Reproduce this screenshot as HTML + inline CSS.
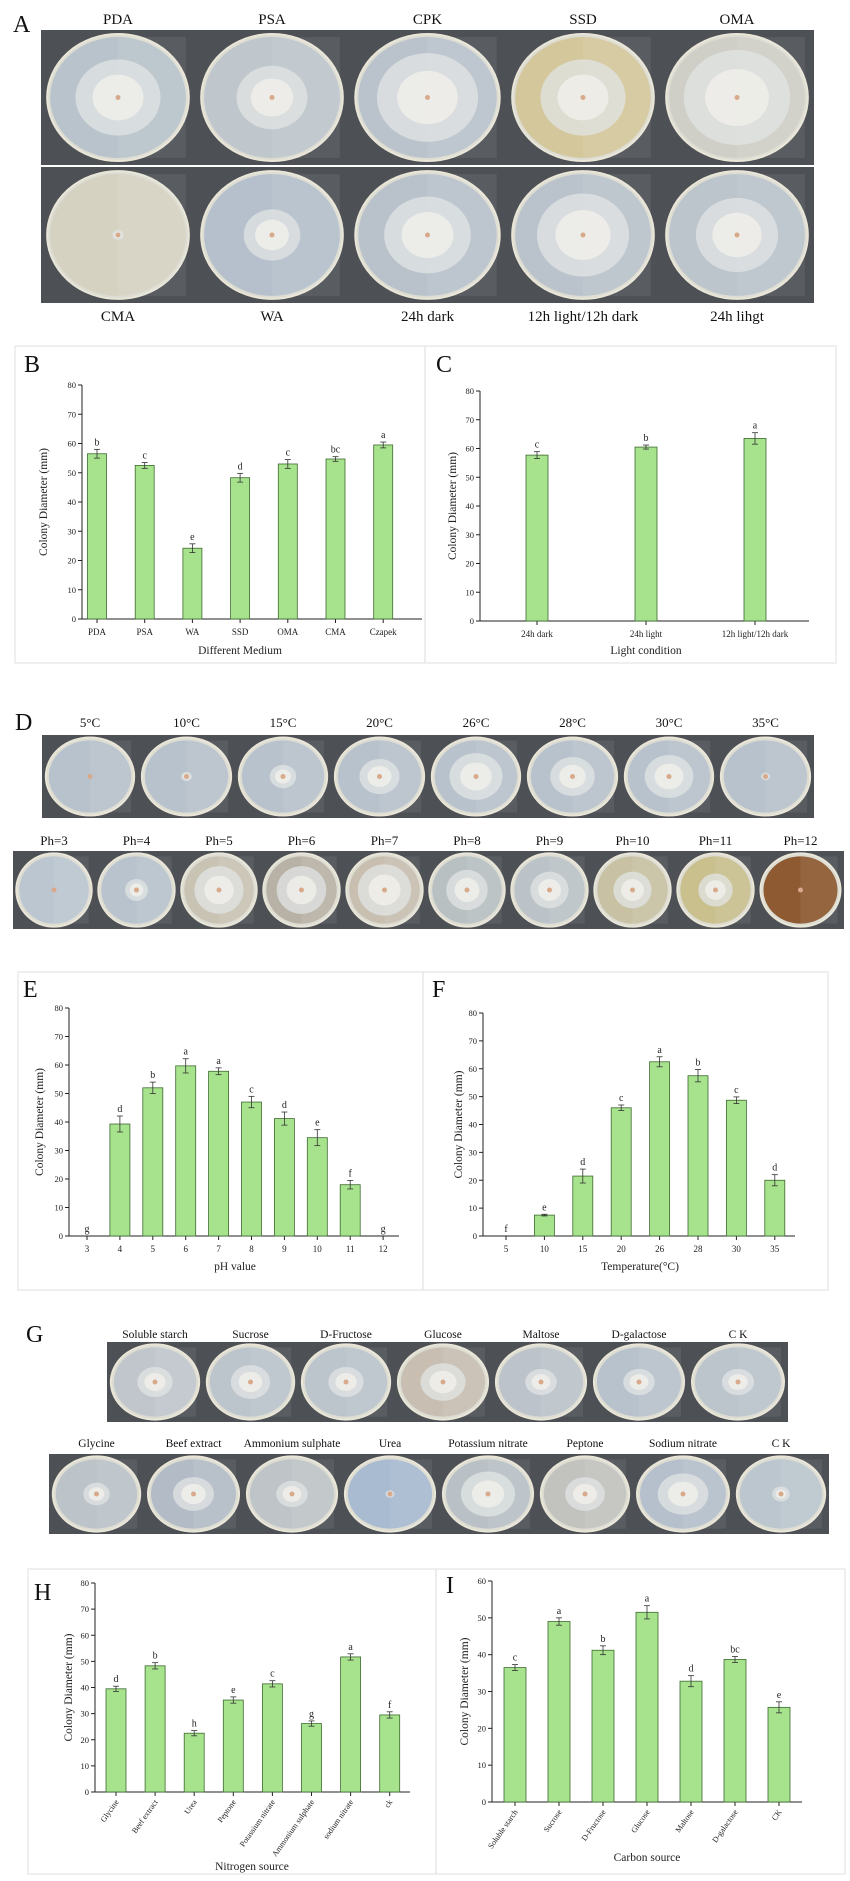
<!DOCTYPE html>
<html><head><meta charset="utf-8"><style>
html,body{margin:0;padding:0;background:#fff;}
svg{display:block;font-family:"Liberation Serif",serif;}
</style></head><body>
<svg id="fig" width="850" height="1881" viewBox="0 0 850 1881" xmlns="http://www.w3.org/2000/svg"></svg>
<script>
// ---------- chart data ----------
const mediumCats = ["PDA","PSA","WA","SSD","OMA","CMA","Czapek"];
const mediumVals = [56.5,52.5,24.2,48.3,53.0,54.7,59.5];
const mediumErrs = [1.5,1.0,1.5,1.5,1.5,0.8,1.0];
const mediumSig = ["b","c","e","d","c","bc","a"];

const lightCats = ["24h dark","24h light","12h light/12h dark"];
const lightVals = [57.7,60.5,63.5];
const lightErrs = [1.2,0.7,2.0];
const lightSig = ["c","b","a"];

const phCats = ["3","4","5","6","7","8","9","10","11","12"];
const phVals = [0,39.3,52.0,59.7,57.8,47.0,41.2,34.5,18.0,0];
const phErrs = [0,2.8,2.0,2.5,1.2,2.0,2.3,2.8,1.5,0];
const phSig = ["g","d","b","a","a","c","d","e","f","g"];

const tempCats = ["5","10","15","20","26","28","30","35"];
const tempVals = [0,7.5,21.5,46.0,62.5,57.5,48.7,20.0];
const tempErrs = [0,0.3,2.5,1.0,1.8,2.2,1.2,2.0];
const tempSig = ["f","e","d","c","a","b","c","d"];

const nitroCats = ["Glycine","Beef extract","Urea","Peptone","Potassium nitrate","Ammonium sulphate","sodium nitrate","ck"];
const nitroVals = [39.5,48.3,22.5,35.2,41.4,26.2,51.7,29.5];
const nitroErrs = [1.0,1.2,1.0,1.2,1.2,1.0,1.2,1.2];
const nitroSig = ["d","b","h","e","c","g","a","f"];

const carbCats = ["Soluble starch","Sucrose","D-Fructose","Glucose","Maltose","D-galactose","CK"];
const carbVals = [36.5,49.0,41.2,51.5,32.8,38.7,25.7];
const carbErrs = [0.8,1.0,1.2,1.8,1.5,0.8,1.5];
const carbSig = ["c","a","b","a","d","bc","e"];

const yTicks80 = [0,10,20,30,40,50,60,70,80];
const yTicks60 = [0,10,20,30,40,50,60];

const NS = "http://www.w3.org/2000/svg";
const fig = document.getElementById("fig");
function el(tag, attrs, parent, txt){
  const e = document.createElementNS(NS, tag);
  for (const k in attrs) e.setAttribute(k, attrs[k]);
  if (txt !== undefined) e.textContent = txt;
  (parent || fig).appendChild(e);
  return e;
}

// ---------- boxes ----------
function box(x,y,w,h,name){
  const r = el("rect",{x:x,y:y,width:w,height:h,fill:"none",stroke:"#e3e6e3","stroke-width":1.2});
  
  
}
box(15,346,410,317,"panel-b-frame");
box(425,346,411,317,"panel-c-frame");
box(18,972,405,318,"panel-e-frame");
box(423,972,405,318,"panel-f-frame");
box(28,1569,408,305,"panel-h-frame");
box(436,1569,409,305,"panel-i-frame");

// ---------- panel letters ----------
function letter(t,x,y){
  const e = el("text",{x:x,y:y,"font-size":24,fill:"#111"},fig,t);
  
  
}
letter("A",13,32); letter("B",24,372); letter("C",436,372);
letter("D",15,730); letter("E",23,997); letter("F",432,997);
letter("G",26,1342); letter("H",34,1600); letter("I",446,1593);

// ---------- photo rows ----------
function photoRow(name, bounds, y0, y1, labels, labelY, colonies, media, fontSize){
  for (let i=0;i<bounds.length-1;i++){
    const x0=bounds[i], x1=bounds[i+1], w=x1-x0, h=y1-y0;
    const g = el("g",{});
    
    
    el("rect",{x:x0,y:y0,width:w,height:h,fill:"#4d5055"},g);
    const cx=x0+w/2, cy=y0+h/2, rx=w*0.46, ry=h*0.47;
    el("ellipse",{cx:cx,cy:cy,rx:rx,ry:ry,fill:"#dcdcd2",stroke:"#e9e6d8","stroke-width":2},g);
    el("ellipse",{cx:cx,cy:cy,rx:rx-3,ry:ry-3,fill:media[i]||"#b8c2cc"},g);
    el("rect",{x:cx,y:cy-ry+3,width:rx-3,height:2*ry-6,fill:"#ffffff",opacity:0.07},g);
    const c = colonies[i];
    if (c>0){
      el("ellipse",{cx:cx,cy:cy,rx:rx*c,ry:ry*c,fill:"#e2e4e4",opacity:0.75},g);
      el("ellipse",{cx:cx,cy:cy,rx:rx*c*0.6,ry:ry*c*0.6,fill:"#f0efea",opacity:0.85},g);
    }
    el("circle",{cx:cx,cy:cy,r:2.5,fill:"#d8a98a"},g);
    const t = el("text",{x:cx,y:labelY,"text-anchor":"middle","font-size":fontSize,fill:"#111"},fig,labels[i]);
    
    
  }
}
photoRow("medium-top",[41,195,349,506,660,814],30,165,["PDA","PSA","CPK","SSD","OMA"],24,
  [0.6,0.5,0.7,0.6,0.75],["#b9c3cb","#bfc6cc","#bac3cc","#d4c79c","#cfcfc8"],15);
photoRow("medium-bottom",[41,195,349,506,660,814],167,303,["CMA","WA","24h dark","12h light/12h dark","24h lihgt"],321,
  [0.08,0.4,0.6,0.65,0.58],["#d6d2c2","#b5c0cc","#b9c2cb","#bac3cb","#bcc4cc"],15);
photoRow("temperature",[42,138,235,331,428,524,621,717,814],735,818,
  ["5°C","10°C","15°C","20°C","26°C","28°C","30°C","35°C"],727,
  [0,0.12,0.3,0.45,0.6,0.5,0.55,0.1],[],13);
photoRow("ph",[13,95,178,260,343,426,508,591,674,757,844],851,929,
  ["Ph=3","Ph=4","Ph=5","Ph=6","Ph=7","Ph=8","Ph=9","Ph=10","Ph=11","Ph=12"],845,
  [0,0.3,0.65,0.65,0.7,0.55,0.5,0.5,0.45,0],
  ["#bcc6d0","#b9c3cd","#c9c3b4","#b8b2a6","#c8bfb0","#b8c0c2","#bcc3c8","#c8c1a4","#c9c08e","#8d5a32"],13);
photoRow("carbon",[107,203,298,394,492,590,688,788],1342,1422,
  ["Soluble starch","Sucrose","D-Fructose","Glucose","Maltose","D-galactose","C K"],1338,
  [0.4,0.45,0.4,0.5,0.35,0.35,0.35],["#c0c6cc","#bcc4cc","#bcc4cc","#c8bfb2","#bcc3ca","#b8c2cc","#bcc4cc"],11.5);
photoRow("nitrogen",[49,144,243,341,439,537,633,733,829],1454,1534,
  ["Glycine","Beef extract","Ammonium sulphate","Urea","Potassium nitrate","Peptone","Sodium nitrate","C K"],1447,
  [0.3,0.45,0.35,0.1,0.6,0.45,0.55,0.2],["#bcc3c9","#b3bcc6","#bfc4c8","#a9bbd0","#b9c1c6","#c2c3bf","#b5c0cc","#bcc6ce"],11.5);

// ---------- bar chart ----------
function chart(o){
  const g = el("g",{});
  
  
  const yS = v => o.y0 - (v/o.ymax)*(o.y0-o.yTop);
  const xS = i => o.first + i*o.step;
  const ya = el("line",{x1:o.ax,y1:o.y0,x2:o.ax,y2:o.yTop,stroke:"#222","stroke-width":1},g);
  
  
  const xa = el("line",{x1:o.ax,y1:o.y0,x2:o.xEnd,y2:o.y0,stroke:"#222","stroke-width":1},g);
  
  
  o.ticks.forEach(t=>{
    const y=yS(t);
    el("line",{x1:o.ax-4,y1:y,x2:o.ax,y2:y,stroke:"#222"},g);
    const tl = el("text",{x:o.ax-6,y:y+3,"text-anchor":"end","font-size":8.5,fill:"#222"},g,String(t));
    
    
  });
  o.cats.forEach((c,i)=>{
    const x=xS(i);
    el("line",{x1:x,y1:o.y0,x2:x,y2:o.y0+4,stroke:"#222"},g);
    const v=o.vals[i], e=o.errs[i];
    if (v>0){
      const b = el("rect",{x:x-o.bw/2,y:yS(v),width:o.bw,height:o.y0-yS(v),fill:"#a7e28d",stroke:"#3e6a30","stroke-width":0.8},g);
      
      
    }
    if (e>0){
      el("line",{x1:x,y1:yS(v+e),x2:x,y2:yS(v-e),stroke:"#333","stroke-width":0.8},g);
      el("line",{x1:x-3,y1:yS(v+e),x2:x+3,y2:yS(v+e),stroke:"#333","stroke-width":0.8},g);
      el("line",{x1:x-3,y1:yS(v-e),x2:x+3,y2:yS(v-e),stroke:"#333","stroke-width":0.8},g);
    }
    const s = el("text",{x:x,y:yS(v+e)-4,"text-anchor":"middle","font-size":10,fill:"#222"},g,o.sig[i]);
    
    
    let xl;
    if (o.rot){
      xl = el("text",{x:x+3,y:o.y0+10,"text-anchor":"end","font-size":8,fill:"#222",transform:"rotate(-55 "+(x+3)+" "+(o.y0+10)+")"},g,c);
    } else {
      xl = el("text",{x:x,y:o.y0+16,"text-anchor":"middle","font-size":9,fill:"#222"},g,c);
    }
    
    
  });
  const xt = el("text",{x:o.titleX,y:o.titleY,"text-anchor":"middle","font-size":11.5,fill:"#222"},g,o.xTitle);
  
  
  const yc=(o.y0+o.yTop)/2;
  const yt = el("text",{x:o.ytX,y:yc,"text-anchor":"middle","font-size":11.5,fill:"#222",transform:"rotate(-90 "+o.ytX+" "+yc+")"},g,"Colony Diameter (mm)");
  
  
}

chart({name:"medium-chart",cats:mediumCats,vals:mediumVals,errs:mediumErrs,sig:mediumSig,ticks:yTicks80,ymax:80,
  ax:82,xEnd:422,y0:619,yTop:385,first:97,step:47.7,bw:19,xTitle:"Different Medium",titleX:240,titleY:654,ytX:47});
chart({name:"light-chart",cats:lightCats,vals:lightVals,errs:lightErrs,sig:lightSig,ticks:yTicks80,ymax:80,
  ax:480,xEnd:809,y0:621,yTop:391,first:537,step:109,bw:22,xTitle:"Light condition",titleX:646,titleY:654,ytX:456});
chart({name:"ph-chart",cats:phCats,vals:phVals,errs:phErrs,sig:phSig,ticks:yTicks80,ymax:80,
  ax:69,xEnd:399,y0:1236,yTop:1008,first:87,step:32.9,bw:20,xTitle:"pH value",titleX:235,titleY:1270,ytX:43});
chart({name:"temperature-chart",cats:tempCats,vals:tempVals,errs:tempErrs,sig:tempSig,ticks:yTicks80,ymax:80,
  ax:483,xEnd:795,y0:1236,yTop:1013,first:506,step:38.4,bw:20,xTitle:"Temperature(°C)",titleX:640,titleY:1270,ytX:462});
chart({name:"nitrogen-chart",cats:nitroCats,vals:nitroVals,errs:nitroErrs,sig:nitroSig,ticks:yTicks80,ymax:80,rot:true,
  ax:95,xEnd:410,y0:1792,yTop:1583,first:116,step:39.1,bw:20,xTitle:"Nitrogen source",titleX:252,titleY:1870,ytX:72});
chart({name:"carbon-chart",cats:carbCats,vals:carbVals,errs:carbErrs,sig:carbSig,ticks:yTicks60,ymax:60,rot:true,
  ax:492,xEnd:802,y0:1802,yTop:1581,first:515,step:44,bw:22,xTitle:"Carbon source",titleX:647,titleY:1861,ytX:468});
</script>
</body></html>
